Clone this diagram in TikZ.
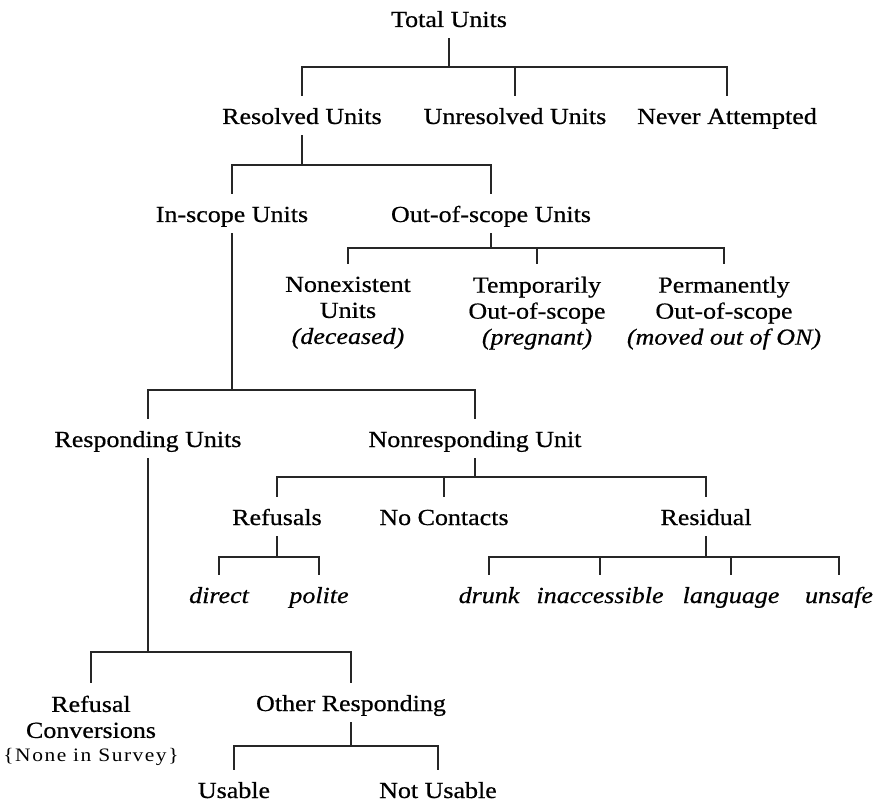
\documentclass[tikz,border=0pt]{standalone}
\usepackage{fontspec}
\setmainfont[FakeStretch=1.13,FakeBold=0.6]{Liberation Serif}
\newfontfamily\spacedfont[FakeStretch=1.13,LetterSpace=8]{Liberation Serif}
\begin{document}
\begin{tikzpicture}[x=1pt,y=-1pt,
  lbl/.style={inner sep=0pt, anchor=base, text height=15pt, text depth=4pt, font=\fontsize{23}{26}\selectfont},
  ilbl/.style={lbl, font=\fontsize{23}{26}\selectfont\itshape},
  mlbl/.style={inner sep=0pt, anchor=north, align=center, font=\fontsize{23}{26}\selectfont},
  conn/.style={line width=1.3pt, black!85}]
\useasboundingbox (0,0) rectangle (874,802);

% nodes
\node[lbl] (tot) at (449,27) {Total Units};
\node[lbl] (res) at (302,124) {Resolved Units};
\node[lbl] (unr) at (515,124) {Unresolved Units};
\node[lbl] (nev) at (727,124) {Never Attempted};
\node[lbl] (ins) at (232,222) {In-scope Units};
\node[lbl] (out) at (491,222) {Out-of-scope Units};
\node[mlbl] (non) at (348,276.5) {Nonexistent\\Units\\\textit{(deceased)}};
\node[mlbl] (tmp) at (537,276.5) {Temporarily\\Out-of-scope\\\textit{(pregnant)}};
\node[mlbl] (per) at (724,276.5) {Permanently\\Out-of-scope\\\textit{(moved out of ON)}};
\node[lbl] (rsp) at (148,447) {Responding Units};
\node[lbl] (nrs) at (475,447) {Nonresponding Unit};
\node[lbl] (rfs) at (277,525) {Refusals};
\node[lbl] (noc) at (444,525) {No Contacts};
\node[lbl] (rsd) at (706,525) {Residual};
\node[ilbl] (dir) at (219,603) {direct};
\node[ilbl] (pol) at (319,603) {polite};
\node[ilbl] (dru) at (489,603) {drunk};
\node[ilbl] (ina) at (600,603) {inaccessible};
\node[ilbl] (lan) at (731,603) {language};
\node[ilbl] (uns) at (839,603) {unsafe};
\node[mlbl] (rcv) at (91,695.5) {Refusal\\Conversions\\[-2pt]{\fontsize{19}{22}\spacedfont\{None in Survey\}}};
\node[lbl] (oth) at (351,711) {Other Responding};
\node[lbl] (usa) at (234,798) {Usable};
\node[lbl] (nus) at (438,798) {Not Usable};

% bar levels
\coordinate (b1) at (0,67);
\coordinate (b2) at (0,165);
\coordinate (b3) at (0,248);
\coordinate (b4) at (0,390);
\coordinate (b5) at (0,477);
\coordinate (b6) at (0,557);
\coordinate (b7) at (0,557);
\coordinate (b8) at (0,652);
\coordinate (b9) at (0,746);

% connectors
\draw[conn] ([yshift=-7pt]tot.south) -- (tot |- b1);
\foreach \c in {res,unr,nev} \draw[conn] (tot |- b1) -| ([yshift=13pt]\c.north);

\draw[conn] ([yshift=-7pt]res.south) -- (res |- b2);
\foreach \c in {ins,out} \draw[conn] (res |- b2) -| ([yshift=13pt]\c.north);

\draw[conn] ([yshift=-7pt]out.south) -- (out |- b3);
\foreach \c in {non,tmp,per} \draw[conn] (out |- b3) -| ([yshift=13pt]\c.north);

\draw[conn] ([yshift=-7pt]ins.south) -- (ins |- b4);
\foreach \c in {rsp,nrs} \draw[conn] (ins |- b4) -| ([yshift=13pt]\c.north);

\draw[conn] ([yshift=-7pt]nrs.south) -- (nrs |- b5);
\foreach \c in {rfs,noc,rsd} \draw[conn] (nrs |- b5) -| ([yshift=13pt]\c.north);

\draw[conn] ([yshift=-7pt]rfs.south) -- (rfs |- b6);
\foreach \c in {dir,pol} \draw[conn] (rfs |- b6) -| ([yshift=13pt]\c.north);

\draw[conn] ([yshift=-7pt]rsd.south) -- (rsd |- b7);
\foreach \c in {dru,ina,lan,uns} \draw[conn] (rsd |- b7) -| ([yshift=13pt]\c.north);

\draw[conn] ([yshift=-7pt]rsp.south) -- (rsp |- b8);
\foreach \c in {rcv,oth} \draw[conn] (rsp |- b8) -| ([yshift=13pt]\c.north);

\draw[conn] ([yshift=-7pt]oth.south) -- (oth |- b9);
\foreach \c in {usa,nus} \draw[conn] (oth |- b9) -| ([yshift=13pt]\c.north);
\end{tikzpicture}
\end{document}
